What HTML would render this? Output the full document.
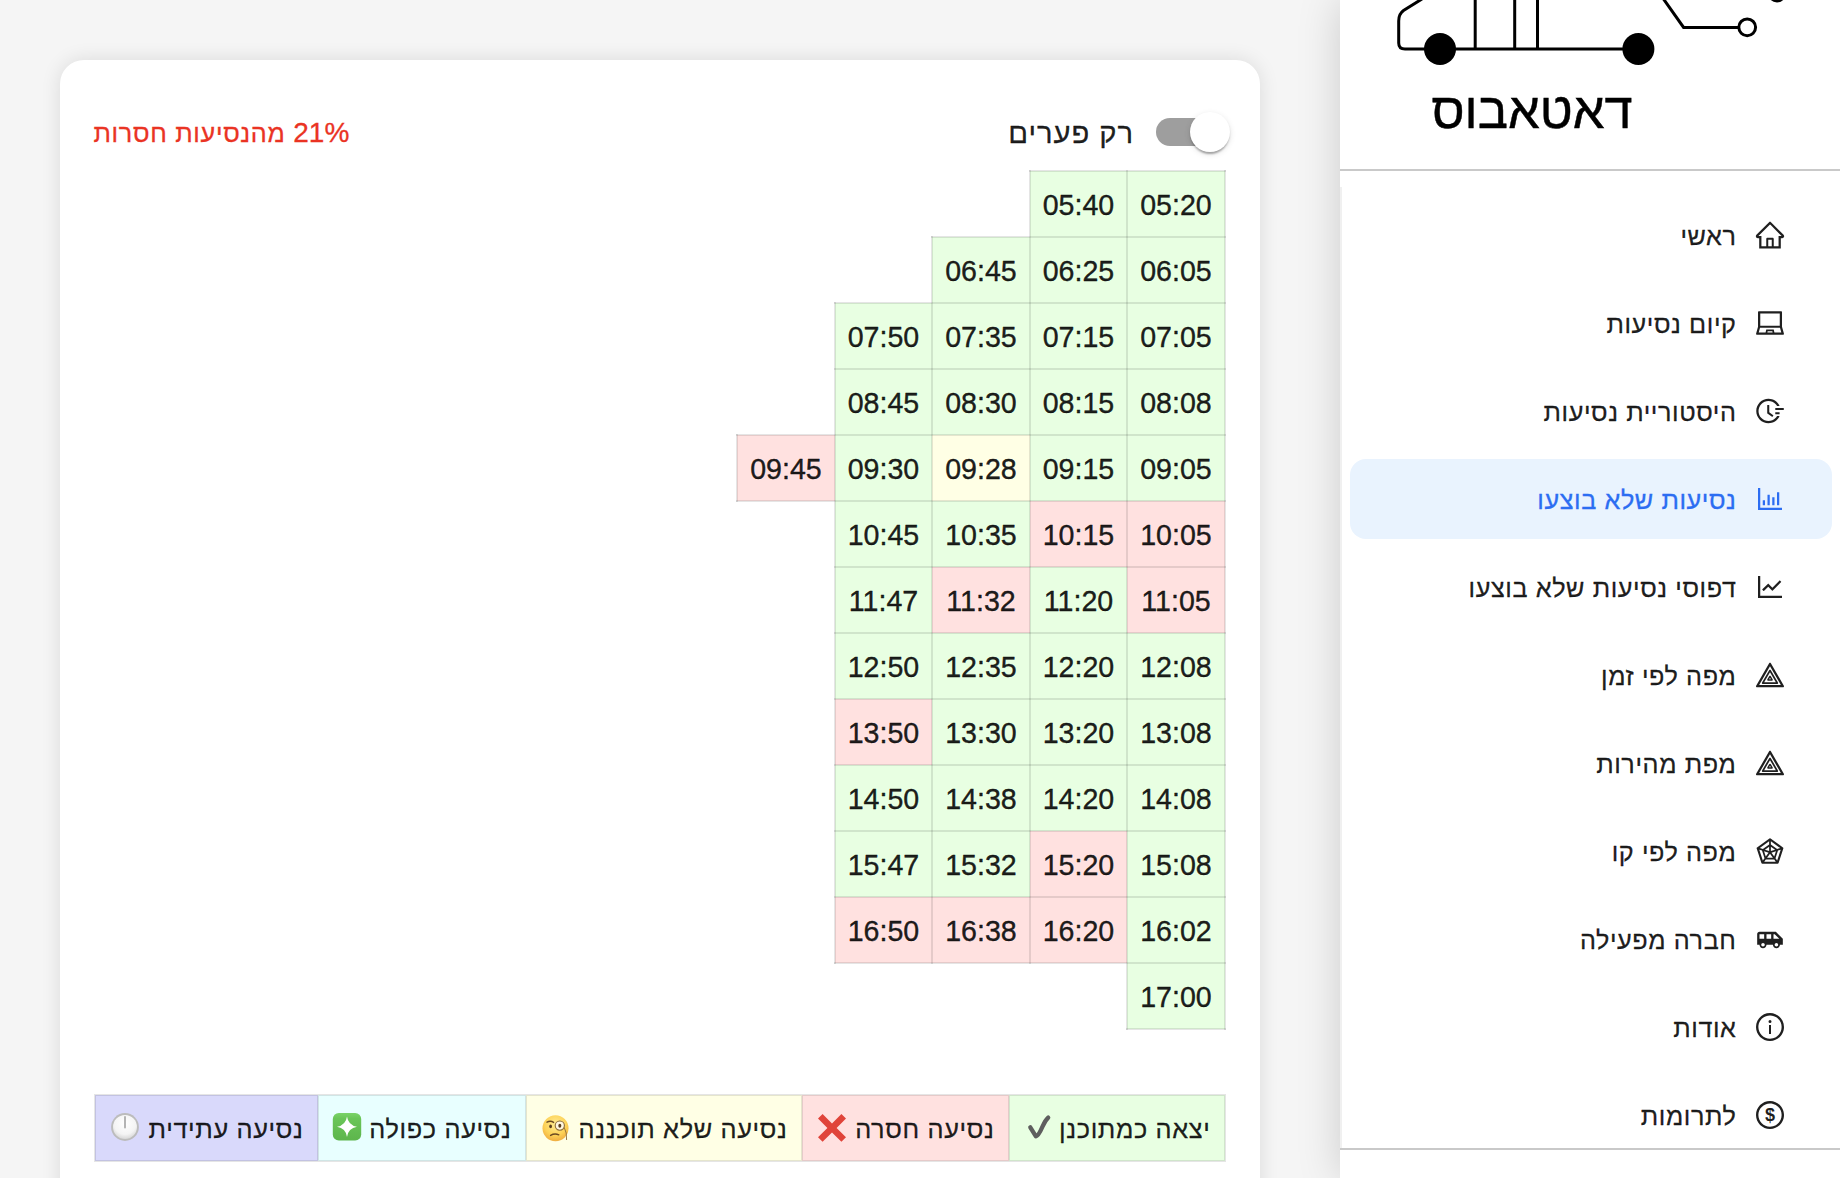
<!DOCTYPE html>
<html lang="he" dir="rtl">
<head>
<meta charset="utf-8">
<title>דאטאבוס</title>
<style>
*{box-sizing:border-box}
html,body{margin:0;padding:0}
body{width:1840px;height:1178px;overflow:hidden;background:#f5f5f5;font-family:"Liberation Sans","DejaVu Sans",sans-serif;color:rgba(0,0,0,.88);position:relative;direction:rtl}
#sider{position:absolute;left:1340px;top:0;width:500px;height:1178px;background:#fff;box-shadow:0 0 40px rgba(0,0,0,.17)}
#logo{position:absolute;left:0;top:0;width:500px;height:170px;overflow:hidden}
#logo svg{position:absolute;left:0;top:0}
#title{position:absolute;left:-8px;width:400px;top:80.5px;text-align:center;font-size:50.6px;-webkit-text-stroke:.45px #000;line-height:60px;color:#000;direction:rtl}
.hr{position:absolute;left:0;width:500px;height:2px;background:#c9c9c9}
#menu{position:absolute;left:0;top:187px;width:500px;height:962px}
#menu:before{content:"";position:absolute;left:0;top:0;width:2px;height:962px;background:#f0f0f0}
.mi{position:absolute;left:10px;width:482px;height:80px;border-radius:16px;font-size:25.2px;letter-spacing:.6px;line-height:80px;padding-right:48px;white-space:nowrap}
.mi svg{position:absolute;right:46px;top:24px;width:32px;height:32px}
.mi svg.mui{right:48px;top:26.5px;width:28px;height:28px}
.mi span{-webkit-text-stroke:.3px currentColor;position:absolute;right:95.5px;top:1px}
.mi.sel{background:#e9f3fe;color:#2c6df2}
#card{position:absolute;left:60px;top:60px;width:1200px;height:1200px;background:#fff;border-radius:24px;box-shadow:0 0 20px rgba(0,0,0,.11)}
#pct{-webkit-text-stroke:.3px currentColor;position:absolute;left:33.5px;top:53px;font-size:25.2px;letter-spacing:.7px;line-height:40px;color:#ea3323;white-space:nowrap;direction:rtl}
#pct b{font-weight:normal;font-size:28px;letter-spacing:0}
#swlabel{-webkit-text-stroke:.3px currentColor;position:absolute;right:126px;top:51px;font-size:29.2px;letter-spacing:.95px;line-height:44px;white-space:nowrap}
#track{position:absolute;left:1096px;top:58px;width:66px;height:28px;border-radius:14px;background:#9e9e9e}
#thumb{position:absolute;left:1130px;top:52px;width:40px;height:40px;border-radius:50%;background:#fff;box-shadow:0 4px 2px -2px rgba(0,0,0,.2),0 2px 2px 0 rgba(0,0,0,.14),0 2px 6px 0 rgba(0,0,0,.12)}
table{border-collapse:collapse;position:absolute;direction:rtl;table-layout:fixed;width:488px}
#grid{right:34px;top:110px}
td{-webkit-text-stroke:.4px rgba(0,0,0,.88);padding:2px 0 0 0;height:66px;text-align:center;font-size:28.6px;color:rgba(0,0,0,.88);direction:ltr}
td.g,td.r,td.y{border:2px solid rgba(0,0,0,.1)}
.g{background:#e8ffe2}.r{background:#ffe1e0}.y{background:#ffffe5}
#legend{position:absolute;left:0;top:1035px;height:66px;width:1200px}
.lc{position:absolute;top:0;height:66px;font-size:25.3px;letter-spacing:.65px;line-height:67px;white-space:nowrap}
.lc:after{content:"";z-index:1;position:absolute;left:-1px;top:-1px;right:1px;bottom:-1px;border:2px solid rgba(0,0,0,.1);border-right:none}
.lc.last:after{right:-1px;border-right:2px solid rgba(0,0,0,.1)}
.lc span{-webkit-text-stroke:.3px currentColor;position:absolute;right:14.5px;top:1px}
.lc svg{position:absolute}
</style>
</head>
<body>
<div id="card">
  <div id="pct"><b>21%</b> מהנסיעות חסרות</div>
  <div id="swlabel">רק פערים</div>
  <div id="track"></div><div id="thumb"></div>
  <table id="grid"><colgroup><col style="width:98px"><col style="width:97px"><col style="width:98px"><col style="width:97px"><col style="width:98px"></colgroup>
<tr><td class="g">05:20</td><td class="g">05:40</td><td></td><td></td><td></td></tr>
<tr><td class="g">06:05</td><td class="g">06:25</td><td class="g">06:45</td><td></td><td></td></tr>
<tr><td class="g">07:05</td><td class="g">07:15</td><td class="g">07:35</td><td class="g">07:50</td><td></td></tr>
<tr><td class="g">08:08</td><td class="g">08:15</td><td class="g">08:30</td><td class="g">08:45</td><td></td></tr>
<tr><td class="g">09:05</td><td class="g">09:15</td><td class="y">09:28</td><td class="g">09:30</td><td class="r">09:45</td></tr>
<tr><td class="r">10:05</td><td class="r">10:15</td><td class="g">10:35</td><td class="g">10:45</td><td></td></tr>
<tr><td class="r">11:05</td><td class="g">11:20</td><td class="r">11:32</td><td class="g">11:47</td><td></td></tr>
<tr><td class="g">12:08</td><td class="g">12:20</td><td class="g">12:35</td><td class="g">12:50</td><td></td></tr>
<tr><td class="g">13:08</td><td class="g">13:20</td><td class="g">13:30</td><td class="r">13:50</td><td></td></tr>
<tr><td class="g">14:08</td><td class="g">14:20</td><td class="g">14:38</td><td class="g">14:50</td><td></td></tr>
<tr><td class="g">15:08</td><td class="r">15:20</td><td class="g">15:32</td><td class="g">15:47</td><td></td></tr>
<tr><td class="g">16:02</td><td class="r">16:20</td><td class="r">16:38</td><td class="r">16:50</td><td></td></tr>
<tr><td class="g">17:00</td><td></td><td></td><td></td><td></td></tr>
  </table>
  <div id="legend">
    <div class="lc g last" style="left:949px;width:216px"><span>יצאה כמתוכנן</span>
      <svg style="left:16px;top:19px" width="28" height="28" viewBox="0 0 28 28"><path d="M5.3 13.3 L10.9 22.3 C13.6 22 15.6 17 17.6 12.4 S21.4 5.2 23.2 3.6" fill="none" stroke="#5e5e5e" stroke-width="4.3" stroke-linecap="round" stroke-linejoin="round"/></svg></div>
    <div class="lc r" style="left:742px;width:207px"><span>נסיעה חסרה</span>
      <svg style="left:15px;top:16.5px" width="30" height="31" preserveAspectRatio="none" viewBox="0 0 30 30"><path d="M5.6 2 L15 11.2 L24.4 2 L29 6.4 L19.6 15.4 L29 24.4 L24.4 28.8 L15 19.8 L5.6 28.8 L1 24.4 L10.4 15.4 L1 6.4Z" fill="#e0443a"/></svg></div>
    <div class="lc y" style="left:466px;width:276px"><span>נסיעה שלא תוכננה</span>
      <svg style="left:16px;top:19px" width="28" height="28" viewBox="0 0 28 28">
        <defs><radialGradient id="fg" cx="50%" cy="35%" r="70%"><stop offset="0" stop-color="#ffec94"/><stop offset=".6" stop-color="#fdd257"/><stop offset="1" stop-color="#eda63c"/></radialGradient></defs>
        <circle cx="13.5" cy="14.2" r="13" fill="url(#fg)"/>
        <circle cx="17.8" cy="11.6" r="4.6" fill="#fff7e0" stroke="#8a6a3a" stroke-width="1.1"/>
        <ellipse cx="17.8" cy="11.8" rx="1.5" ry="2" fill="#5a3d1e"/>
        <ellipse cx="8.6" cy="12.4" rx="1.4" ry="1.8" fill="#5a3d1e"/>
        <path d="M5 8.2 Q8.5 6.2 11.6 8.4" fill="none" stroke="#6b4a22" stroke-width="1.4" stroke-linecap="round"/>
        <path d="M8.6 21.4 Q12.6 19 16.8 20.8" fill="none" stroke="#6b4a22" stroke-width="1.4" stroke-linecap="round"/>
        <path d="M22.2 13.4 L24.2 19 L24.6 26" fill="none" stroke="#8a6a3a" stroke-width=".9"/>
      </svg></div>
    <div class="lc" style="left:258px;width:208px;background:#e8ffff"><span>נסיעה כפולה</span>
      <svg style="left:14px;top:17px" width="30" height="30" viewBox="0 0 30 30">
        <defs><linearGradient id="gg" x1="0" y1="0" x2="0" y2="1"><stop offset="0" stop-color="#7ad368"/><stop offset=".2" stop-color="#6ac558"/><stop offset="1" stop-color="#5db54c"/></linearGradient></defs>
        <rect x=".8" y="1" width="28.4" height="27.6" rx="6" fill="url(#gg)"/>
        <path d="M15 4.6 Q16.2 13.4 25 14.8 Q16.2 16.2 15 25 Q13.8 16.2 5 14.8 Q13.8 13.4 15 4.6Z" fill="#fff"/>
      </svg></div>
    <div class="lc" style="left:35px;width:223px;background:#d9d9fb"><span>נסיעה עתידית</span>
      <svg style="left:15px;top:17px" width="30" height="30" viewBox="0 0 30 30">
        <defs><radialGradient id="cg" cx="50%" cy="35%" r="65%"><stop offset="0" stop-color="#ffffff"/><stop offset=".7" stop-color="#f4f4f4"/><stop offset="1" stop-color="#d8d8d8"/></radialGradient></defs>
        <circle cx="15" cy="15" r="13.9" fill="#bcbcbc"/>
        <circle cx="15" cy="15" r="12" fill="url(#cg)"/>
        <path d="M15 5V15.4" stroke="#b4b4b4" stroke-width="2" stroke-linecap="round"/>
      </svg></div>
  </div>
</div>
<div id="sider">
  <div id="logo">
    <svg width="500" height="170" viewBox="0 0 500 170" fill="none" stroke="#000" stroke-width="3">
      <path d="M82 -1 L63.5 10.5 Q58.7 14 58.7 21 L58.7 43 Q58.7 49 65 49 L298 49"/>
      <path d="M135.2 -1V49M174.7 -1V49M197.5 -1V49"/>
      <path d="M323.5 -1 L343.6 27.4 L398.5 27.4"/>
      <circle cx="407.2" cy="27.3" r="8.4" fill="#fff"/>
      <circle cx="100" cy="49" r="16" fill="#000" stroke="none"/>
      <circle cx="298.4" cy="49" r="16" fill="#000" stroke="none"/>
      <circle cx="437" cy="-6.5" r="9" fill="#000" stroke="none"/>
    </svg>
    <div id="title">דאטאבוס</div>
  </div>
  <div class="hr" style="top:169px"></div>
  <div id="menu">
    <div class="mi" style="top:8px"><svg viewBox="0 0 1024 1024" fill="currentColor"><path d="M946.500 505L560.100 118.800l-25.900-25.900a31.500 31.500 0 00-44.400 0L77.500 505a63.900 63.900 0 00-18.800 46c.4 35.200 29.700 63.300 64.900 63.300h42.500V940h691.800V614.300h43.400c17.100 0 33.200-6.700 45.300-18.800a63.600 63.600 0 0018.700-45.300c0-17-6.700-33.100-18.800-45.200zM568 868H456V664h112v204zm217.900-325.700V868H632V640c0-22.100-17.900-40-40-40H432c-22.100 0-40 17.900-40 40v228H238.100V542.300h-96l370-369.700 23.100 23.100L882 542.300h-96.100z"/></svg><span>ראשי</span></div>
    <div class="mi" style="top:96px"><svg viewBox="0 0 1024 1024" fill="currentColor"><path d="M956.900 845.100L896.400 632V168c0-17.700-14.300-32-32-32h-704c-17.700 0-32 14.300-32 32v464L67.900 845.100C60.400 866 75.800 888 98 888h828.800c22.200 0 37.600-22 30.100-42.900zM200.400 208h624v395h-624V208zm228.300 608l8.100-37h150.300l8.100 37H428.700zm224 0l-19.100-86.700c-.8-3.700-4.100-6.300-7.800-6.300H398.200c-3.800 0-7 2.600-7.800 6.300L371.300 816H151l42.300-149h638.200l42.300 149H652.700z"/></svg><span>קיום נסיעות</span></div>
    <div class="mi" style="top:184px"><svg viewBox="0 0 1024 1024" fill="currentColor"><path d="M945 412H689c-4.400 0-8 3.600-8 8v48c0 4.400 3.600 8 8 8h256c4.400 0 8-3.600 8-8v-48c0-4.400-3.600-8-8-8zM811 548H689c-4.400 0-8 3.600-8 8v48c0 4.400 3.600 8 8 8h122c4.400 0 8-3.600 8-8v-48c0-4.400-3.600-8-8-8zM477.300 322.500H434c-6.200 0-11.200 5-11.200 11.200v248c0 3.600 1.700 6.900 4.600 9l148.900 108.600c5 3.600 12 2.600 15.600-2.400l25.700-35.100v-.1c3.600-5 2.500-12-2.500-15.600l-126.700-91.600V333.700c.1-6.200-5-11.200-11.100-11.200z"/><path d="M804.800 673.900H747c-5.600 0-10.900 2.900-13.900 7.700a321 321 0 01-44.500 55.700 317.170 317.170 0 01-101.300 68.300c-39.300 16.600-81 25-124 25-43.100 0-84.800-8.400-124-25-37.900-16-72-39-101.300-68.300s-52.300-63.400-68.300-101.300c-16.600-39.200-25-80.900-25-124 0-43.100 8.400-84.700 25-124 16-37.900 39-72 68.300-101.300 29.300-29.300 63.400-52.300 101.300-68.300 39.200-16.600 81-25 124-25 43.100 0 84.800 8.400 124 25 37.900 16 72 39 101.300 68.300a321 321 0 0144.500 55.700c3 4.800 8.300 7.700 13.900 7.700h57.800c6.900 0 11.300-7.200 8.200-13.300-65.200-129.700-197.400-214-345-215.700-216.100-2.700-395.600 174.200-396 390.100C71.600 727.500 246.900 903 463.200 903c149.500 0 283.900-84.600 349.800-215.800a9.180 9.180 0 00-8.200-13.300z"/></svg><span>היסטוריית נסיעות</span></div>
    <div class="mi sel" style="top:272px"><svg viewBox="0 0 1024 1024" fill="currentColor"><path d="M888 792H200V168c0-4.400-3.600-8-8-8h-56c-4.400 0-8 3.600-8 8v688c0 4.400 3.600 8 8 8h752c4.400 0 8-3.600 8-8v-56c0-4.400-3.600-8-8-8zm-600-80h56c4.400 0 8-3.600 8-8V560c0-4.400-3.600-8-8-8h-56c-4.400 0-8 3.600-8 8v144c0 4.400 3.600 8 8 8zm152 0h56c4.400 0 8-3.600 8-8V384c0-4.400-3.600-8-8-8h-56c-4.400 0-8 3.600-8 8v320c0 4.400 3.600 8 8 8zm152 0h56c4.400 0 8-3.600 8-8V462c0-4.400-3.600-8-8-8h-56c-4.400 0-8 3.600-8 8v242c0 4.400 3.600 8 8 8zm152 0h56c4.400 0 8-3.600 8-8V304c0-4.400-3.600-8-8-8h-56c-4.400 0-8 3.600-8 8v400c0 4.400 3.600 8 8 8z"/></svg><span>נסיעות שלא בוצעו</span></div>
    <div class="mi" style="top:360px"><svg viewBox="0 0 1024 1024" fill="currentColor"><path d="M888 792H200V168c0-4.400-3.600-8-8-8h-56c-4.400 0-8 3.600-8 8v688c0 4.400 3.600 8 8 8h752c4.400 0 8-3.600 8-8v-56c0-4.400-3.600-8-8-8zM305.800 637.700c3.100 3.100 8.100 3.100 11.300 0l138.300-137.600L583 628.500c3.100 3.100 8.200 3.100 11.300 0l275.400-275.300c3.100-3.100 3.100-8.200 0-11.300l-39.600-39.600a8.030 8.030 0 00-11.300 0l-230 229.900L461.400 404a8.030 8.030 0 00-11.300 0L266.300 586.700a8.030 8.030 0 000 11.300l39.500 39.700z"/></svg><span>דפוסי נסיעות שלא בוצעו</span></div>
    <div class="mi" style="top:448px"><svg viewBox="0 0 1024 1024" fill="currentColor"><path d="M955.700 856l-416-720c-6.200-10.700-16.900-16-27.700-16s-21.600 5.300-27.700 16l-416 720C56 877.400 71.400 904 96 904h832c24.600 0 40-26.600 27.700-48zm-790.400-23.900L512 231.900 858.700 832H165.300zm319-474.100l-228 394c-12.300 21.300 3.100 48 27.700 48h455.800c24.700 0 40.100-26.700 27.700-48L539.700 358c-6.200-10.700-17-16-27.700-16-10.800 0-21.600 5.300-27.700 16zm214 386H325.700L512 422l186.300 322zm-214-194.100l-57 98.400C415 669.500 430.400 696 455 696h114c24.600 0 39.900-26.500 27.700-47.700l-57-98.400c-6.100-10.600-16.900-15.900-27.700-15.900s-21.500 5.300-27.700 15.900zm57.100 98.400h-58.700l29.400-50.700 29.300 50.700z"/></svg><span>מפה לפי זמן</span></div>
    <div class="mi" style="top:536px"><svg viewBox="0 0 1024 1024" fill="currentColor"><path d="M955.700 856l-416-720c-6.200-10.700-16.900-16-27.700-16s-21.600 5.300-27.700 16l-416 720C56 877.400 71.400 904 96 904h832c24.600 0 40-26.600 27.700-48zm-790.400-23.900L512 231.900 858.700 832H165.300zm319-474.100l-228 394c-12.300 21.300 3.100 48 27.700 48h455.800c24.700 0 40.100-26.700 27.700-48L539.700 358c-6.200-10.700-17-16-27.700-16-10.800 0-21.600 5.300-27.700 16zm214 386H325.700L512 422l186.300 322zm-214-194.100l-57 98.400C415 669.500 430.400 696 455 696h114c24.600 0 39.900-26.500 27.700-47.700l-57-98.400c-6.100-10.600-16.900-15.900-27.700-15.900s-21.500 5.300-27.700 15.900zm57.100 98.400h-58.700l29.400-50.700 29.300 50.700z"/></svg><span>מפת מהירות</span></div>
    <div class="mi" style="top:624px"><svg viewBox="0 0 1024 1024" fill="currentColor"><path d="M926.800 397.100l-396-288a31.810 31.810 0 00-37.600 0l-396 288a31.990 31.990 0 00-11.600 35.800l151.300 466a32 32 0 0030.400 22.100h489.500c13.900 0 26.100-8.900 30.400-22.100l151.300-466c4.200-13.200-.5-27.600-11.700-35.800zM838.600 417l-98.500 32-200-144.700V199.900L838.600 417zM466 567.200l-89.100 122.300-55.200-169.200L466 567.200zm-116.300-96.800L484 373.300v140.800l-134.300-43.700zM512 599.200l93.900 128.900H418.100L512 599.200zm28.100-225.900l134.200 97.100L540.100 514V373.300zM558 567.200l144.300-46.900-55.200 169.200L558 567.200zm-74-367.300v104.400L283.900 449l-98.500-32L484 199.900zM169.300 470.800l86.500 28.100 80.400 246.400-53.800 73.900-113.100-348.400zM327.100 853l50.300-69h269.300l50.300 69H327.100zm414.500-33.800l-53.800-73.900 80.400-246.400 86.500-28.100-113.100 348.400z"/></svg><span>מפה לפי קו</span></div>
    <div class="mi" style="top:712px"><svg class="mui" viewBox="0 0 24 24" fill="currentColor"><path d="M17 5H3c-1.100 0-2 .89-2 2v9h2c0 1.650 1.340 3 3 3s3-1.350 3-3h5.500c0 1.650 1.340 3 3 3s3-1.350 3-3H23v-5l-6-6zM3 11V7h4v4H3zm3 6.500c-.83 0-1.500-.67-1.500-1.500s.67-1.500 1.500-1.500 1.500.67 1.500 1.500-.67 1.500-1.500 1.500zm7-6.500H9V7h4v4zm4.500 6.500c-.83 0-1.500-.67-1.500-1.500s.67-1.500 1.500-1.500 1.500.67 1.500 1.500-.67 1.500-1.500 1.500zM15 11V7h1l4 4h-5z"/></svg><span>חברה מפעילה</span></div>
    <div class="mi" style="top:800px"><svg viewBox="0 0 1024 1024" fill="currentColor"><path d="M512 64C264.600 64 64 264.600 64 512s200.600 448 448 448 448-200.600 448-448S759.400 64 512 64zm0 820c-205.400 0-372-166.600-372-372s166.600-372 372-372 372 166.600 372 372-166.600 372-372 372z"/><path d="M464 336a48 48 0 1096 0 48 48 0 10-96 0zm72 112h-48c-4.400 0-8 3.600-8 8v272c0 4.400 3.600 8 8 8h48c4.400 0 8-3.600 8-8V456c0-4.400-3.600-8-8-8z"/></svg><span>אודות</span></div>
    <div class="mi" style="top:888px"><svg viewBox="0 0 1024 1024" fill="currentColor"><path d="M512 64C264.600 64 64 264.600 64 512s200.600 448 448 448 448-200.600 448-448S759.400 64 512 64zm0 820c-205.400 0-372-166.600-372-372s166.600-372 372-372 372 166.600 372 372-166.600 372-372 372z"/><text x="512" y="702" text-anchor="middle" style="font-family:'Liberation Sans','DejaVu Sans',sans-serif;font-size:580px;font-weight:bold;letter-spacing:0">$</text></svg><span>לתרומות</span></div>
  </div>
  <div class="hr" style="top:1148px"></div>
</div>
</body>
</html>
